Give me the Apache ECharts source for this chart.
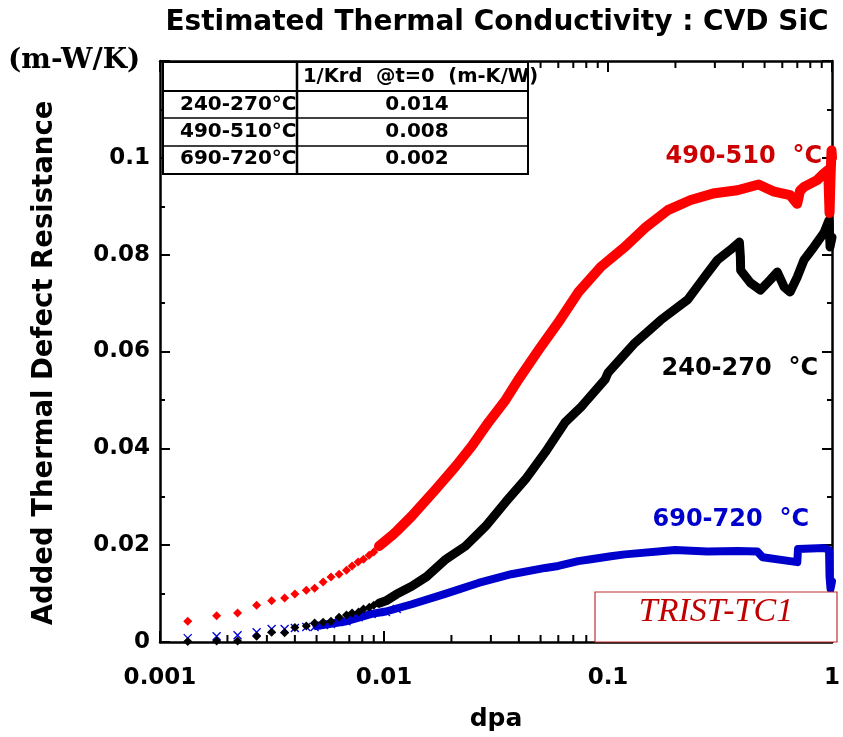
<!DOCTYPE html>
<html><head><meta charset="utf-8">
<script src="https://cdn.jsdelivr.net/npm/echarts@6/dist/echarts.min.js"></script>
<style>html,body{margin:0;padding:0;background:#fff}#c{width:843px;height:737px}</style>
</head><body><div id="c"></div>
<script>
const xTickLabels = ['0.001', '0.01', '0.1', '1'];
const yTickLabels = ['0', '0.02', '0.04', '0.06', '0.08', '0.1', ''];
const xMinorTicks = [0.002,0.003,0.004,0.005,0.006,0.007,0.008,0.009,
  0.02,0.03,0.04,0.05,0.06,0.07,0.08,0.09,0.2,0.3,0.4,0.5,0.6,0.7,0.8,0.9];

const labelRed = '490-510  °C';
const labelBlack = '240-270  °C';
const labelBlue = '690-720  °C';
const yAxisTitle = 'Added Thermal Defect Resistance';

// 490-510 °C : individual points at low dose, then dense band
const redSparse = [[0.00133,0.0043],[0.00179,0.0054],[0.00222,0.0060],[0.0027,0.0076],[0.00315,0.0085],
  [0.0036,0.0091],[0.0040,0.0099],[0.0045,0.0107],[0.0049,0.0111],[0.00535,0.0124],[0.0058,0.0134],
  [0.0063,0.0140],[0.0068,0.0148],[0.0072,0.0157],[0.00766,0.0165],[0.0081,0.0171],[0.00858,0.0179],
  [0.0090,0.0186],[0.0095,0.0198],[0.0102,0.0206],[0.0108,0.0219]];
const redDense = [[0.0095,0.0198],[0.0108,0.0219],[0.0114,0.0229],[0.0133,0.0260],[0.017,0.0315],
  [0.0209,0.0363],[0.0246,0.0404],[0.0293,0.0454],[0.0349,0.0500],[0.0398,0.0542],[0.049,0.0603],
  [0.060,0.0660],[0.0736,0.0722],[0.093,0.0775],[0.119,0.0816],[0.146,0.0855],[0.185,0.0892],
  [0.234,0.0913],[0.299,0.0927],[0.378,0.0933],[0.47,0.0945],[0.552,0.0930],[0.65,0.0923],
  [0.699,0.0905],[0.72,0.0932],[0.751,0.0940],[0.858,0.0954],[0.921,0.0968],[0.962,0.0975],
  [0.975,0.0886],[0.985,0.0960],[0.995,0.1015],[1.0,0.1000]];

// 240-270 °C
const blackSparse = [[0.00133,0.0001],[0.00179,0.0002],[0.00222,0.0002],[0.0027,0.0012],[0.00315,0.0020],
  [0.0036,0.0019],[0.0040,0.0030],[0.0045,0.0033],[0.0049,0.0039],[0.00535,0.0041],[0.0058,0.0043],
  [0.0063,0.0051],[0.0068,0.0056],[0.0072,0.0060],[0.0077,0.0062],[0.0081,0.0068],[0.0086,0.0072],
  [0.0090,0.0076],[0.0095,0.0080],[0.0102,0.0085],[0.0108,0.0093]];
const blackDense = [[0.0095,0.0080],[0.0102,0.0085],[0.0114,0.0099],[0.0133,0.0115],[0.0155,0.0135],
  [0.0189,0.0171],[0.0231,0.0198],[0.0284,0.0239],[0.0349,0.0289],[0.0428,0.0336],[0.0525,0.0392],
  [0.0644,0.0454],[0.076,0.0486],[0.079,0.0495],[0.097,0.0542],[0.1,0.0556],[0.132,0.0618],
  [0.172,0.0665],[0.227,0.0707],[0.27,0.0754],[0.308,0.0789],[0.352,0.0810],[0.386,0.0826],
  [0.390,0.0795],[0.391,0.0768],[0.432,0.0742],[0.479,0.0727],[0.53,0.0748],[0.57,0.0764],
  [0.612,0.0733],[0.65,0.0723],[0.70,0.0754],[0.75,0.0789],[0.83,0.0816],[0.92,0.0845],
  [0.97,0.0871],[0.98,0.0816],[1.0,0.0836]];

// 690-720 °C
const blueSparse = [[0.00133,0.0008],[0.00179,0.0012],[0.00222,0.0014],[0.0027,0.0020],[0.00315,0.0027],
  [0.0036,0.0027],[0.0040,0.0029],[0.0045,0.0031],[0.0049,0.0031],[0.0054,0.0035],[0.0058,0.0037],
  [0.0063,0.0041],[0.0068,0.0043],[0.0077,0.0051],[0.0088,0.0058],[0.0102,0.0062],[0.0114,0.0068]];
const blueDense = [[0.0050,0.0033],[0.0068,0.0043],[0.0088,0.0058],[0.0102,0.0063],[0.0133,0.0078],
  [0.0189,0.0100],[0.0264,0.0122],[0.037,0.0140],[0.0525,0.0153],[0.060,0.0157],[0.0736,0.0167],
  [0.084,0.0171],[0.103,0.0177],[0.119,0.0181],[0.199,0.0190],[0.278,0.0187],[0.38,0.0188],
  [0.464,0.0187],[0.49,0.0175],[0.65,0.0167],[0.70,0.0165],[0.705,0.0192],[0.92,0.0194],
  [0.95,0.0192],[0.97,0.0190],[0.975,0.0135],[0.985,0.0110],[1.0,0.0125]];

const tableHeader = '1/Krd  @t=0  (m-K/W)';
const tableRows = ['240-270°C', '490-510°C', '690-720°C'];
const tableValues = ['0.014', '0.008', '0.002'];
const unitLabel = '(m-W/K)';
const stampLabel = 'TRIST-TC1';

const FONT = 'DejaVu Sans';
const chart = echarts.init(document.getElementById('c'), null, {renderer: 'canvas'});

function xLabel(v) {
  const i = Math.round(Math.log10(v)) + 3;
  return xTickLabels[i] !== undefined ? xTickLabels[i] : '';
}
function yLabel(v) {
  const i = Math.round(v / 0.02);
  return yTickLabels[i] !== undefined ? yTickLabels[i] : '';
}

function minorTickSeries(top) {
  return {
    type: 'custom', xAxisIndex: 0, yAxisIndex: 0, silent: true, clip: false, z: 5,
    data: xMinorTicks.map(v => [v, top ? 0.12 : 0]),
    renderItem: function (params, api) {
      const p = api.coord([api.value(0), api.value(1)]);
      const d = top ? 7 : -7;
      return {type: 'line', shape: {x1: p[0], y1: p[1], x2: p[0], y2: p[1] + d},
        style: {stroke: '#000', lineWidth: 2}};
    }
  };
}

const axisCommon = {
  axisLine: {show: true, onZero: false, lineStyle: {color: '#000', width: 2.5}},
  splitLine: {show: false}
};

const xSymbol = 'path://M0,0L10,10M10,0L0,10';

const option = {
  animation: false,
  backgroundColor: '#fff',
  title: {
    text: 'Estimated Thermal Conductivity : CVD SiC',
    left: 492, top: 4, textAlign: 'center',
    textStyle: {fontFamily: FONT, fontWeight: 'bold', fontSize: 28, color: '#000'}
  },
  grid: {left: 160, right: 7, top: 61, bottom: 94},
  xAxis: [
    Object.assign({}, axisCommon, {
      type: 'log', logBase: 10, min: 0.001, max: 1, position: 'bottom',
      axisTick: {show: true, inside: true, length: 11, lineStyle: {color: '#000', width: 2}},
      axisLabel: {formatter: xLabel, fontFamily: FONT, fontWeight: 'bold', fontSize: 23, color: '#000', margin: 25},
      name: 'dpa', nameLocation: 'middle', nameGap: 65,
      nameTextStyle: {fontFamily: FONT, fontWeight: 'bold', fontSize: 25, color: '#000'}
    }),
    Object.assign({}, axisCommon, {
      type: 'log', logBase: 10, min: 0.001, max: 1, position: 'top',
      axisTick: {show: true, inside: true, length: 11, lineStyle: {color: '#000', width: 2}},
      axisLabel: {show: false}
    })
  ],
  yAxis: [
    Object.assign({}, axisCommon, {
      type: 'value', min: 0, max: 0.12, interval: 0.02, position: 'left',
      axisTick: {show: true, inside: true, length: 10, lineStyle: {color: '#000', width: 2}},
      minorTick: {show: true, splitNumber: 2, length: 5, lineStyle: {color: '#000', width: 2}},
      axisLabel: {formatter: yLabel, fontFamily: FONT, fontWeight: 'bold', fontSize: 23, color: '#000', margin: 10}
    }),
    Object.assign({}, axisCommon, {
      type: 'value', min: 0, max: 0.12, interval: 0.02, position: 'right',
      axisTick: {show: true, inside: true, length: 10, lineStyle: {color: '#000', width: 2}},
      minorTick: {show: true, splitNumber: 2, length: 5, lineStyle: {color: '#000', width: 2}},
      axisLabel: {show: false}
    })
  ],
  series: [
    {name: labelBlue, type: 'line', data: blueDense, showSymbol: false, symbol: 'none',
      lineStyle: {color: '#0000cc', width: 8, join: 'round', cap: 'round'}, z: 2},
    {name: labelBlue, type: 'scatter', data: blueSparse, symbol: xSymbol, symbolSize: 8,
      itemStyle: {color: 'none', borderColor: '#0000dd', borderWidth: 1.3, opacity: 1}, z: 2},
    {name: labelBlack, type: 'line', data: blackDense, showSymbol: false, symbol: 'none',
      lineStyle: {color: '#000', width: 9, join: 'round', cap: 'round'}, z: 3},
    {name: labelBlack, type: 'scatter', data: blackSparse, symbol: 'diamond', symbolSize: 9,
      itemStyle: {color: '#000', opacity: 1}, z: 3},
    {name: labelRed, type: 'line', data: redDense, showSymbol: false, symbol: 'none',
      lineStyle: {color: '#ff0000', width: 10, join: 'round', cap: 'round'}, z: 4},
    {name: labelRed, type: 'scatter', data: redSparse, symbol: 'diamond', symbolSize: 9,
      itemStyle: {color: '#ff0000', opacity: 1}, z: 4},
    minorTickSeries(false),
    minorTickSeries(true)
  ],
  graphic: [
    // y axis title
    {type: 'text', x: 45, y: 363, rotation: Math.PI / 2, z: 20,
      style: {text: yAxisTitle, font: 'bold 27.5px "DejaVu Sans"', fill: '#000', textAlign: 'center', textVerticalAlign: 'middle'}},
    // series labels
    {type: 'text', right: 843 - 822, top: 145, z: 20,
      style: {text: labelRed, font: 'bold 24px "DejaVu Sans"', fill: '#cc0000'}},
    {type: 'text', right: 843 - 818, top: 357, z: 20,
      style: {text: labelBlack, font: 'bold 24px "DejaVu Sans"', fill: '#000'}},
    {type: 'text', right: 843 - 809, top: 508, z: 20,
      style: {text: labelBlue, font: 'bold 24px "DejaVu Sans"', fill: '#0000cc'}},
    // unit label
    {type: 'text', left: 8, top: 47, z: 20,
      style: {text: unitLabel, font: 'bold 28px "DejaVu Serif"', fill: '#000'}},
    // stamp box
    {type: 'rect', shape: {x: 595, y: 592, width: 242, height: 50}, z: 20,
      style: {fill: '#fff', stroke: '#c03030', lineWidth: 1.2}},
    {type: 'text', x: 716, y: 612, z: 21,
      style: {text: stampLabel, font: 'italic 34px "Liberation Serif"', fill: '#c00000', textAlign: 'center', textVerticalAlign: 'middle'}},
    // table
    {type: 'rect', shape: {x: 163, y: 62, width: 365, height: 112}, z: 20,
      style: {fill: '#fff', stroke: '#000', lineWidth: 2}},
    {type: 'text', x: 303, y: 77, z: 21,
      style: {text: tableHeader, font: 'bold 19.5px "DejaVu Sans"', fill: '#000', textVerticalAlign: 'middle'}},
    {type: 'text', x: 180, y: 105, z: 21,
      style: {text: tableRows[0], font: 'bold 20px "DejaVu Sans"', fill: '#000', textVerticalAlign: 'middle'}},
    {type: 'text', x: 180, y: 132, z: 21,
      style: {text: tableRows[1], font: 'bold 20px "DejaVu Sans"', fill: '#000', textVerticalAlign: 'middle'}},
    {type: 'text', x: 180, y: 159, z: 21,
      style: {text: tableRows[2], font: 'bold 20px "DejaVu Sans"', fill: '#000', textVerticalAlign: 'middle'}},
    {type: 'text', x: 417, y: 105, z: 21,
      style: {text: tableValues[0], font: 'bold 20px "DejaVu Sans"', fill: '#000', textAlign: 'center', textVerticalAlign: 'middle'}},
    {type: 'text', x: 417, y: 132, z: 21,
      style: {text: tableValues[1], font: 'bold 20px "DejaVu Sans"', fill: '#000', textAlign: 'center', textVerticalAlign: 'middle'}},
    {type: 'text', x: 417, y: 159, z: 21,
      style: {text: tableValues[2], font: 'bold 20px "DejaVu Sans"', fill: '#000', textAlign: 'center', textVerticalAlign: 'middle'}},
    {type: 'line', shape: {x1: 163, y1: 91, x2: 528, y2: 91}, z: 22, style: {stroke: '#000', lineWidth: 2}},
    {type: 'line', shape: {x1: 163, y1: 118, x2: 528, y2: 118}, z: 22, style: {stroke: '#000', lineWidth: 1.5}},
    {type: 'line', shape: {x1: 163, y1: 146, x2: 528, y2: 146}, z: 22, style: {stroke: '#000', lineWidth: 1.5}},
    {type: 'line', shape: {x1: 297, y1: 62, x2: 297, y2: 174}, z: 22, style: {stroke: '#000', lineWidth: 2.5}}
  ]
};
chart.setOption(option);
</script></body></html>
